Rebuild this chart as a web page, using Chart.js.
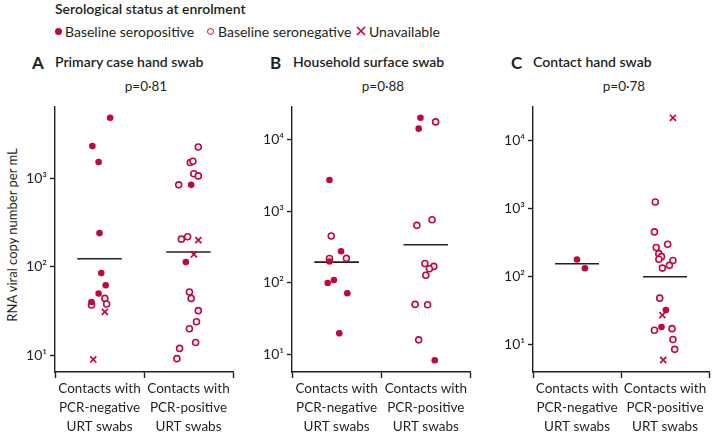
<!DOCTYPE html>
<html>
<head>
<meta charset="utf-8">
<script src="https://cdn.jsdelivr.net/npm/chart.js@4.4.1/dist/chart.umd.min.js"></script>
<style>
  body { margin:0; width:715px; height:432px; background:#fff; position:relative; overflow:hidden;
         font-family: Lato, "Open Sans", sans-serif; color:#231f20; }
  .t { position:absolute; white-space:nowrap; line-height:1; }
  .head { font-size:14px; font-weight:600; }
  .leg { font-size:14px; }
  .letter { font-size:17px; font-weight:700; }
  .pval { font-size:13.5px; transform:translateX(-50%); }
  .dot { position:absolute; width:7px; height:7px; border-radius:50%; background:#c0093b; }
  .ring { position:absolute; width:5px; height:5px; border-radius:50%; border:1.6px solid #c0093b; }
  .cross { position:absolute; }
  .ytitle { position:absolute; left:12px; top:235px; font-size:13px; transform:translate(-50%,-50%) rotate(-90deg); white-space:nowrap; }
  canvas { position:absolute; top:95px; }
</style>
</head>
<body>
<div class="t head" style="left:55px;top:2px">Serological status at enrolment</div>

<div class="dot" style="left:55px;top:28px"></div>
<div class="t leg" style="left:65px;top:25px">Baseline seropositive</div>
<div class="ring" style="left:207px;top:28px"></div>
<div class="t leg" style="left:218px;top:25px">Baseline seronegative</div>
<svg class="cross" style="left:356px;top:26px" width="10" height="10"><path d="M1 1L9 9M9 1L1 9" stroke="#c0093b" stroke-width="1.7"/></svg>
<div class="t leg" style="left:369px;top:25px">Unavailable</div>

<div class="t letter" style="left:32px;top:54px">A</div>
<div class="t head" style="left:55px;top:55px">Primary case hand swab</div>
<div class="t letter" style="left:270px;top:54px">B</div>
<div class="t head" style="left:293px;top:55px">Household surface swab</div>
<div class="t letter" style="left:511px;top:54px">C</div>
<div class="t head" style="left:533px;top:55px">Contact hand swab</div>

<div class="t pval" style="left:146px;top:80px">p=0·81</div>
<div class="t pval" style="left:383px;top:80px">p=0·88</div>
<div class="t pval" style="left:624px;top:80px">p=0·78</div>

<div class="ytitle">RNA viral copy number per mL</div>

<canvas id="panelA" width="229" height="337" style="left:10px"></canvas>
<canvas id="panelB" width="226" height="337" style="left:250px"></canvas>
<canvas id="panelC" width="225" height="337" style="left:490px"></canvas>

<script>
const categories = [["Contacts with", "PCR-negative", "URT swabs"], ["Contacts with", "PCR-positive", "URT swabs"]]
const yTicks = [10, 100, 1000, 10000]
const yTickText = {10: "10¹", 100: "10²", 1000: "10³", 10000: "10⁴"}

// points are [group position (1 or 2, plus jitter), RNA copies per mL]
const aSeropositive = [[1.12, 4800], [0.92, 2300], [0.99, 1520], [1.00, 240], [1.02, 85], [1.07, 62], [0.99, 50], [0.91, 40],
  [2.03, 840], [1.97, 113]]
const aSeronegative = [[0.91, 37], [1.06, 44], [1.08, 38],
  [2.11, 2250], [2.02, 1500], [2.05, 1550], [2.06, 1120], [2.11, 1060], [1.89, 840], [1.92, 205], [1.99, 218],
  [2.01, 52], [2.03, 44], [2.11, 32], [2.09, 24], [2.01, 20], [2.08, 14], [1.90, 12], [1.87, 9.2]]
const aUnavailable = [[1.06, 31], [0.93, 9], [2.11, 200], [2.06, 138]]
const aMedians = [123, 147]
const aRange = [6.5, 6450]

const bSeropositive = [[0.92, 2750], [1.05, 275], [0.92, 198], [0.90, 99], [0.97, 109], [1.12, 71], [1.03, 19.5],
  [1.94, 20500], [1.92, 14400], [2.10, 8.2]]
const bSeronegative = [[0.94, 450], [0.92, 218], [1.11, 219],
  [2.11, 17900], [2.07, 760], [1.90, 635], [1.99, 186], [2.09, 169], [2.04, 157], [2.00, 127], [1.88, 49.6], [2.02, 49], [1.92, 15.8]]
const bUnavailable = []
const bMedians = [194, 340]
const bRange = [5.6, 29500]

const cSeropositive = [[1.00, 179], [1.09, 133], [2.01, 32.4], [1.96, 18.3]]
const cSeronegative = [[1.89, 1250], [1.88, 455], [1.90, 268], [2.03, 300], [1.93, 218], [1.96, 197], [1.93, 181], [2.09, 173],
  [2.05, 147], [1.97, 134], [1.94, 48.5], [1.88, 16.4], [2.08, 17.3], [2.09, 12], [2.11, 8.6]]
const cUnavailable = [[2.09, 21500], [1.97, 27.4], [1.98, 6.0]]
const cMedians = [155, 100]
const cRange = [4.0, 31600]

const RED = "#c0093b"
const INK = "#231f20"
const FONT = "Lato, 'Open Sans', sans-serif"

function makePanel(id, seropositive, seronegative, unavailable, medians, range, yWidth, padRight) {
  const pts = arr => arr.map(p => ({x: p[0], y: p[1]}))
  const datasets = [
    {data: pts(seropositive), pointStyle: "circle", pointRadius: 3.3, backgroundColor: RED, borderWidth: 0},
    {data: pts(seronegative), pointStyle: "circle", pointRadius: 3.0, backgroundColor: "#fff", borderColor: RED, borderWidth: 1.6},
    {data: pts(unavailable), pointStyle: "crossRot", pointRadius: 4.3, borderColor: RED, borderWidth: 1.7}
  ]
  medians.forEach((m, i) => datasets.push({
    type: "line", data: [{x: i + 0.75, y: m}, {x: i + 1.25, y: m}],
    borderColor: INK, borderWidth: 1.6, pointRadius: 0
  }))

  new Chart(document.getElementById(id), {
    type: "scatter",
    data: {datasets: datasets},
    options: {
      responsive: false,
      animation: false,
      events: [],
      clip: false,
      layout: {padding: {top: 4, right: padRight, left: 0, bottom: 0}},
      plugins: {legend: {display: false}, tooltip: {enabled: false}},
      scales: {
        x: {
          type: "linear", min: 0.5, max: 2.5,
          afterBuildTicks: s => { s.ticks = [0.5, 1, 1.5, 2, 2.5].map(v => ({value: v})) },
          afterFit: s => { s.height = 60 },
          border: {display: true, color: INK, width: 1.4},
          grid: {
            drawOnChartArea: false, tickLength: 6, tickWidth: 1.4,
            tickColor: c => (c.tick && c.tick.value % 1 === 0) ? "rgba(0,0,0,0)" : INK
          },
          ticks: {
            autoSkip: false, maxRotation: 0, padding: 1, color: INK,
            font: {family: FONT, size: 13.5, lineHeight: 1.4},
            callback: v => v % 1 === 0 ? categories[v - 1] : ""
          }
        },
        y: {
          type: "logarithmic", min: range[0], max: range[1],
          afterBuildTicks: s => { s.ticks = yTicks.filter(v => v >= range[0] && v <= range[1]).map(v => ({value: v})) },
          afterFit: s => { s.width = yWidth },
          border: {display: true, color: INK, width: 1.4},
          grid: {drawOnChartArea: false, tickLength: 5, tickWidth: 1.4, tickColor: INK},
          ticks: {padding: 3, color: INK, font: {family: FONT, size: 14}, callback: v => yTickText[v]}
        }
      }
    }
  })
}

makePanel("panelA", aSeropositive, aSeronegative, aUnavailable, aMedians, aRange, 45, 3)
makePanel("panelB", bSeropositive, bSeronegative, bUnavailable, bMedians, bRange, 42, 3)
makePanel("panelC", cSeropositive, cSeronegative, cUnavailable, cMedians, cRange, 43, 2)
</script>
</body>
</html>
